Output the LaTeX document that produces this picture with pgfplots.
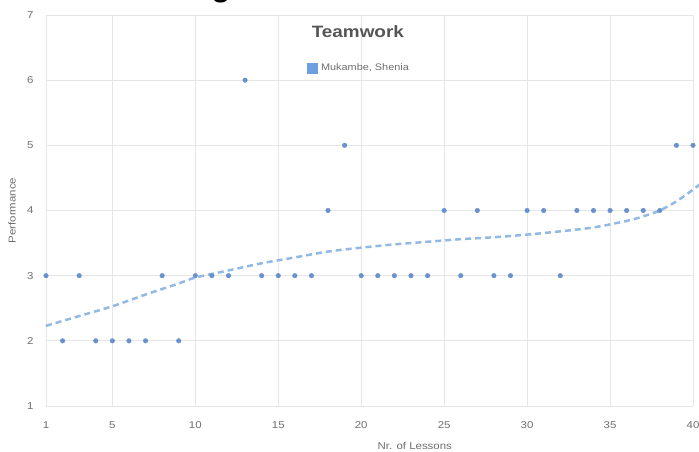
\documentclass[border=0pt]{standalone}
\usepackage{fontspec}
\setmainfont{Liberation Sans}[FakeStretch=1.15]
\usepackage{pgfplots}
\pgfplotsset{compat=1.18}
\definecolor{dotc}{RGB}{105,145,205}
\definecolor{trendc}{RGB}{145,185,228}
\definecolor{legc}{RGB}{110,160,225}
\definecolor{gridc}{RGB}{230,230,230}
\definecolor{txt}{RGB}{110,110,110}
\definecolor{titc}{RGB}{85,85,85}
\begin{document}
\begin{tikzpicture}
\begin{axis}[
  scale only axis, width=647bp, height=391bp,
  xmin=1, xmax=40, ymin=1, ymax=7,
  xtick={1,5,10,15,20,25,30,35,40}, ytick={1,2,3,4,5,6,7},
  grid=major, major grid style={gridc, line width=0.8bp},
  axis line style={draw=none}, tick style={draw=none},
  /pgf/number format/assume math mode=true,
  tick label style={font=\fontsize{10}{12}\selectfont, text=txt},
  yticklabel style={anchor=east, xshift=-9bp},
  xticklabel style={yshift=-12bp},
  xlabel={Nr. of Lessons}, ylabel={Performance},
  label style={font=\fontsize{10}{12}\selectfont, text=txt},
  xlabel style={at={(axis description cs:0.57,0)}, anchor=center, yshift=-40bp},
  ylabel style={at={(axis description cs:-0.0526,0.5)}, anchor=center},
  clip=false,
  legend style={at={(axis description cs:0.485,0.864)}, anchor=center, draw=none, fill=none,
    font=\fontsize{9.5}{11}\selectfont, text=txt,
    nodes={inner xsep=4bp}},
  legend image code/.code={\fill[legc] (0bp,-5bp) rectangle (10bp,5bp);},
]
\addplot[trendc, line width=2.5bp, dash pattern=on 6bp off 4bp, smooth, forget plot] coordinates {
(1,2.23) (3,2.38) (5,2.53) (7,2.71) (9,2.88) (10,2.97) (12,3.08) (14,3.19) (16,3.28)
(18,3.37) (20,3.43) (22,3.48) (24,3.52) (26,3.56) (28,3.59) (30,3.63) (32,3.68)
(34,3.74) (36,3.84) (37,3.91) (38,4.00) (39,4.14) (40,4.32) (40.4,4.40)};
\addplot[only marks, mark=*, mark size=2.3bp, color=dotc, mark options={draw=none, fill=dotc}] coordinates {
(1,3) (2,2) (3,3) (4,2) (5,2) (6,2) (7,2) (8,3) (9,2) (10,3)
(11,3) (12,3) (13,6) (14,3) (15,3) (16,3) (17,3) (18,4) (19,5) (20,3)
(21,3) (22,3) (23,3) (24,3) (25,4) (26,3) (27,4) (28,3) (29,3) (30,4)
(31,4) (32,3) (33,4) (34,4) (35,4) (36,4) (37,4) (38,4) (39,5) (40,5)};
\addlegendentry{Mukambe, Shenia}
\node[font=\fontsize{16.5}{18}\selectfont\bfseries, text=titc] at (axis description cs:0.482,0.957) {Teamwork};
\end{axis}
\node[anchor=base, font=\fontsize{26}{28}\selectfont\bfseries, inner sep=0pt] at (175bp,408bp) {g};
\pgfresetboundingbox
\path[use as bounding box] (-46bp,-46bp) rectangle (653bp,406bp);
\end{tikzpicture}
\end{document}
